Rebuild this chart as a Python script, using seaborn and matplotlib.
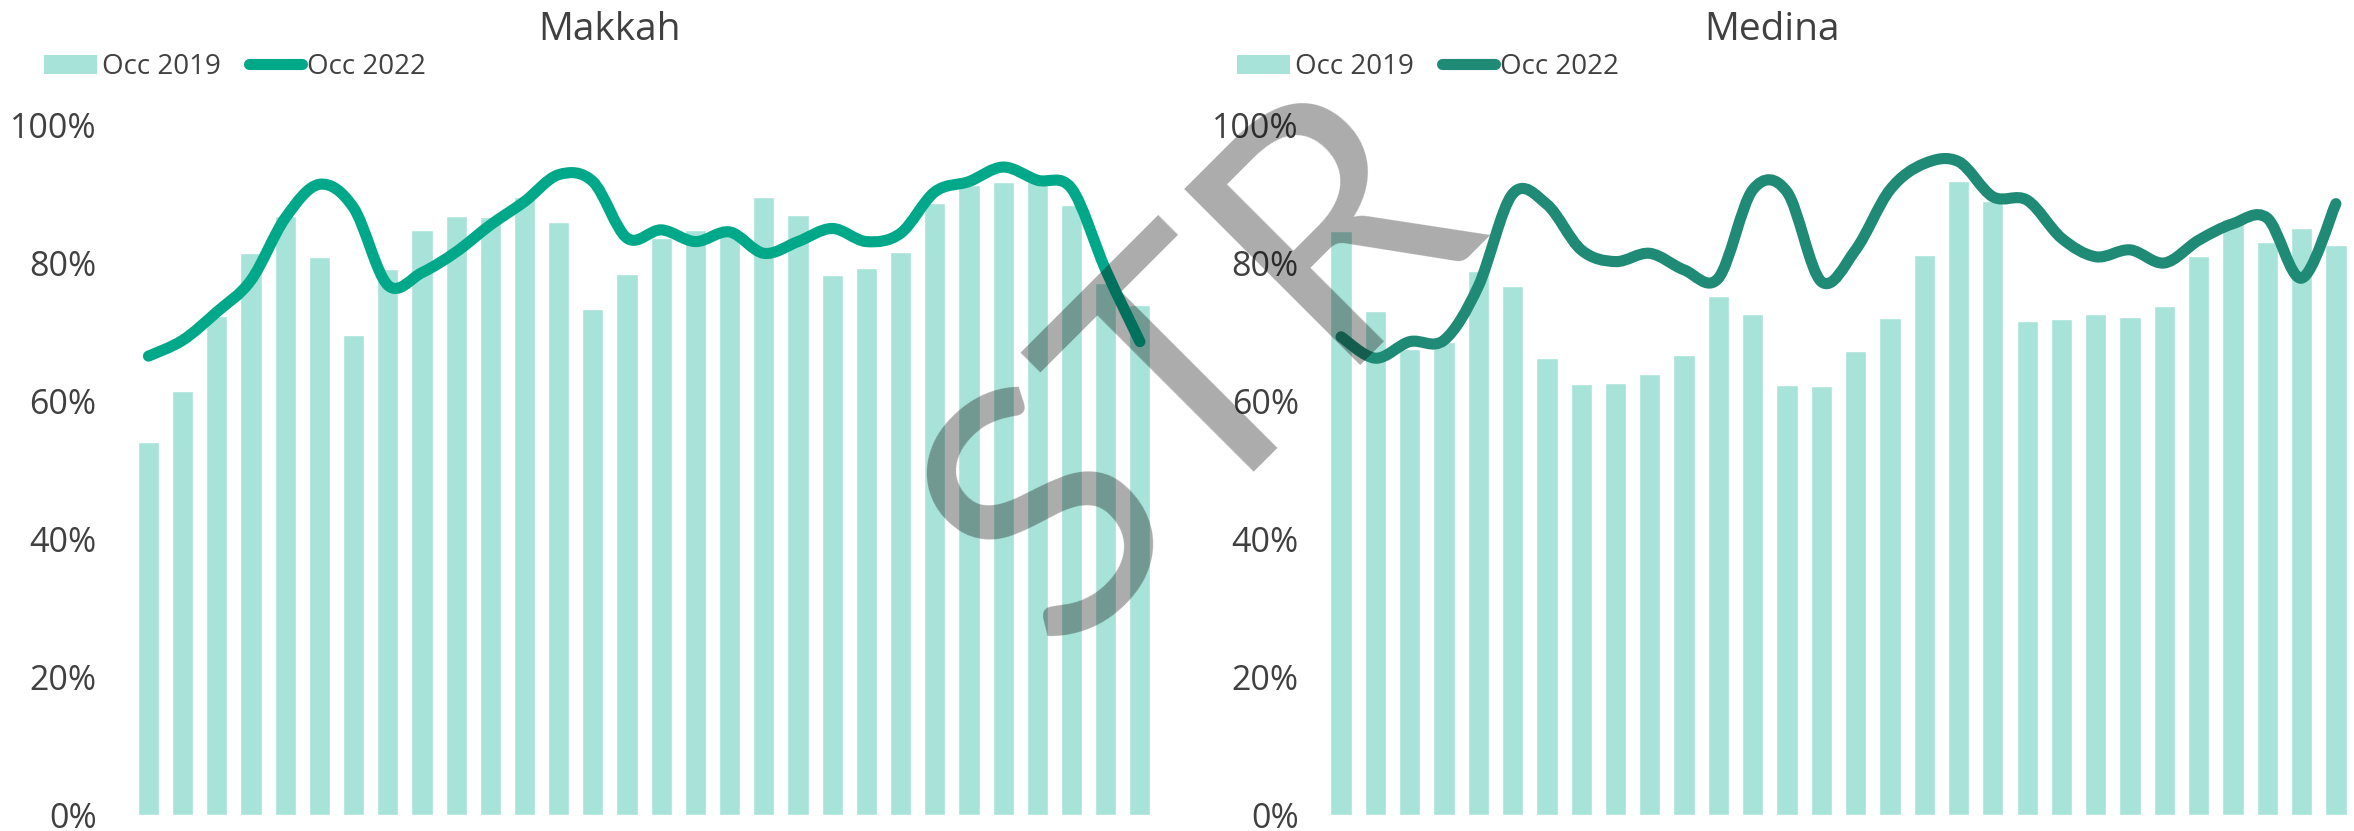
import numpy as np
import matplotlib
matplotlib.use("Agg")
import matplotlib.pyplot as plt
from matplotlib.path import Path
from matplotlib.patches import PathPatch, Patch
from matplotlib.lines import Line2D
import seaborn as sns

# ---- data (occupancy, %) ----
days = [str(d) for d in range(1, 31)]

makkah_2019 = [54.1, 61.4, 72.3, 81.4, 86.8, 80.8, 69.5, 79.1, 84.8, 86.8,
               86.7, 89.5, 85.9, 73.3, 78.4, 83.6, 84.8, 84.5, 89.5, 86.9,
               78.3, 79.3, 81.6, 88.7, 91.3, 91.8, 92.7, 88.4, 77.1, 73.9]
makkah_2022 = [66.5, 68.8, 72.9, 77.5, 86.5, 91.4, 88.0, 76.8, 78.6, 81.6,
               85.5, 88.9, 92.8, 91.8, 83.6, 84.8, 83.1, 84.5, 81.4, 83.1,
               85.0, 83.1, 84.3, 90.3, 91.8, 93.9, 92.0, 90.8, 79.0, 68.6]

medina_2019 = [84.7, 73.1, 67.6, 68.5, 78.8, 76.7, 66.2, 62.4, 62.6, 63.9,
               66.7, 75.2, 72.6, 62.3, 62.1, 67.3, 72.0, 81.1, 91.9, 89.0,
               71.6, 71.9, 72.6, 72.2, 73.7, 81.0, 86.4, 83.1, 85.0, 82.6]
medina_2022 = [69.3, 66.2, 68.6, 68.8, 76.6, 90.0, 88.5, 81.9, 80.2, 81.4,
               79.0, 77.8, 90.6, 90.3, 77.3, 81.9, 90.6, 94.4, 94.7, 89.6,
               89.1, 83.6, 80.9, 81.9, 80.0, 83.3, 85.7, 86.5, 77.8, 88.6]

y_ticks = [0, 20, 40, 60, 80, 100]
y_labels = ["0%", "20%", "40%", "60%", "80%", "100%"]

BAR_COLOR = "#A8E3D9"
MAKKAH_LINE = "#00A88A"
MEDINA_LINE = "#1F8A75"
TEXT = "#404040"

sns.set_style("white")
plt.rcParams["font.family"] = ["Open Sans", "DejaVu Sans"]


def smooth_path(ys):
    """Excel-style smoothed line: cubic Bezier through each data point."""
    pts = np.column_stack([np.arange(len(ys)), ys]).astype(float)
    ext = np.vstack([pts[:1], pts, pts[-1:]])
    verts, codes = [tuple(pts[0])], [Path.MOVETO]
    for i in range(len(pts) - 1):
        p0, p1, p2, p3 = ext[i], ext[i + 1], ext[i + 2], ext[i + 3]
        verts += [tuple(p1 + (p2 - p0) / 6), tuple(p2 - (p3 - p1) / 6), tuple(p2)]
        codes += [Path.CURVE4] * 3
    return Path(verts, codes)


def draw_panel(ax, bars, line, line_color, pad):
    sns.barplot(x=days, y=bars, color=BAR_COLOR, saturation=1, width=0.62, ax=ax)
    patch = PathPatch(smooth_path(line), facecolor="none", edgecolor=line_color,
                      lw=8, capstyle="round", joinstyle="round", zorder=3)
    ax.add_patch(patch)
    ax.set_xlim(-0.5, len(days) - 0.5)
    ax.set_ylim(0, 100)
    ax.set_yticks(y_ticks)
    ax.set_yticklabels(y_labels)
    ax.tick_params(axis="y", length=0, pad=pad, labelsize=24.5, labelcolor=TEXT)
    ax.set_xticks([])
    ax.set_xlabel("")
    ax.set_ylabel("")
    sns.despine(ax=ax, left=True, bottom=True)


fig = plt.figure(figsize=(23.54, 8.31), dpi=100)
ax1 = fig.add_axes([0.0558, 0.0193, 0.4357, 0.8303])
ax2 = fig.add_axes([0.5624, 0.0193, 0.4372, 0.8303])

draw_panel(ax1, makkah_2019, makkah_2022, MAKKAH_LINE, pad=25)
draw_panel(ax2, medina_2019, medina_2022, MEDINA_LINE, pad=18)

fig.text(610 / 2354, 1 - 40 / 831, "Makkah", ha="center", va="baseline",
         fontsize=28, color=TEXT)
fig.text(1772 / 2354, 1 - 40 / 831, "Medina", ha="center", va="baseline",
         fontsize=28, color=TEXT)

for ax, color, x0 in [(ax1, MAKKAH_LINE, 44), (ax2, MEDINA_LINE, 1237)]:
    handles = [Patch(facecolor=BAR_COLOR, edgecolor="none"),
               Line2D([0], [0], color=color, lw=8, solid_capstyle="round")]
    ax.legend(handles, ["Occ 2019", "Occ 2022"], ncol=2, loc="center left",
              bbox_to_anchor=(x0 / 2354, 1 - 67 / 831), bbox_transform=fig.transFigure,
              frameon=False, fontsize=20, labelcolor=TEXT, borderpad=0,
              borderaxespad=0, handlelength=1.9, handleheight=0.65,
              handletextpad=0.2, columnspacing=1.0)

# STR watermark
fig.text(1204 / 2354, 1 - 372 / 831, "STR", rotation=45, rotation_mode="anchor",
         ha="center", va="center", fontsize=250, color="black", alpha=0.33,
         family=["Lato", "DejaVu Sans"], fontweight="normal", zorder=10)

fig.savefig("out.png", dpi=100)
